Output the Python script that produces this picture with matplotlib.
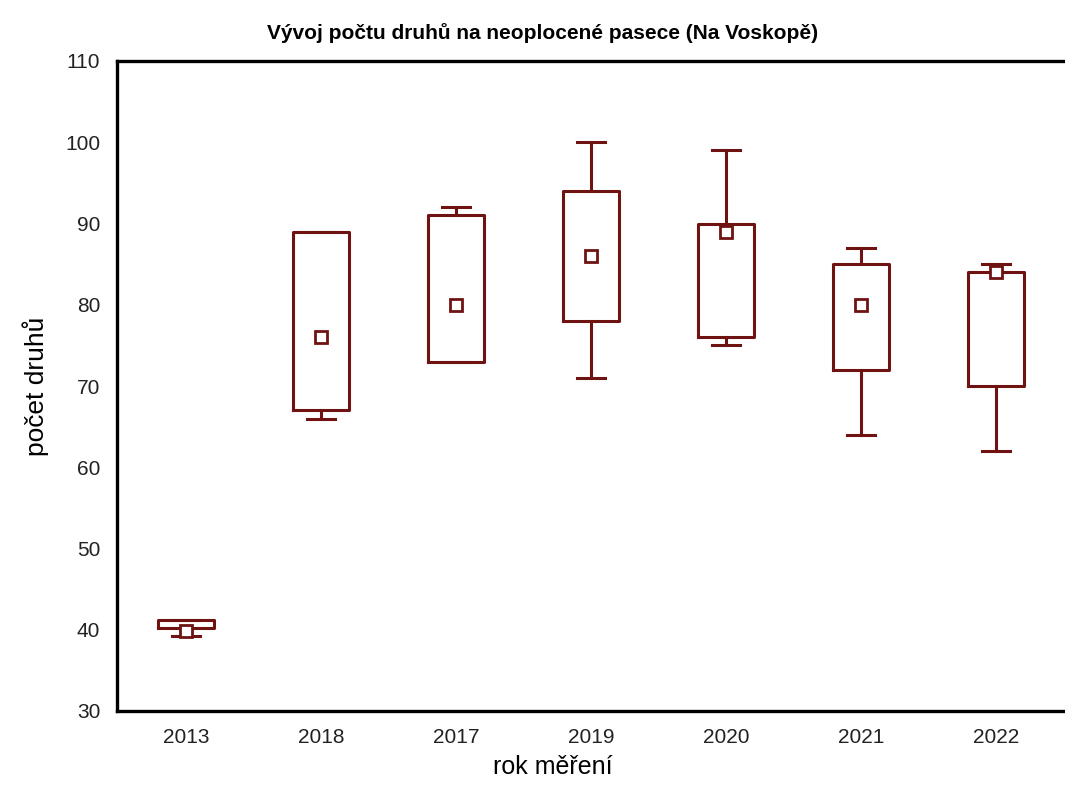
import matplotlib
matplotlib.use("Agg")
import matplotlib.pyplot as plt

plt.rcParams['font.family'] = ['Liberation Sans', 'DejaVu Sans']

years = ["2013", "2018", "2017", "2019", "2020", "2021", "2022"]
whisker_low = [39.2, 66, 73, 71, 75, 64, 62]
box_low = [40.2, 67, 73, 78, 76, 72, 70]
box_high = [41.2, 89, 91, 94, 90, 85, 84]
whisker_high = [41.2, 89, 92, 100, 99, 87, 85]
means = [39.8, 76, 80, 86, 89, 80, 84]

color = '#6e1212'

stats = []
for i, y in enumerate(years):
    stats.append(dict(label=y, whislo=whisker_low[i], q1=box_low[i], med=means[i],
                      q3=box_high[i], whishi=whisker_high[i], mean=means[i]))

fig = plt.figure(figsize=(10.65, 7.98), dpi=100)
ax = fig.add_axes([117/1065, 87/798, 1 - 117/1065, (711-61)/798])

lw = 2.2
ax.bxp(stats, positions=range(len(years)), widths=0.41, showmeans=True, meanline=False,
       showfliers=False,
       boxprops=dict(color=color, linewidth=lw),
       whiskerprops=dict(color=color, linewidth=lw),
       capprops=dict(color=color, linewidth=lw),
       medianprops=dict(linewidth=0),
       meanprops=dict(marker='s', markersize=8, markerfacecolor='white',
                      markeredgecolor=color, markeredgewidth=2.0))

ax.set_xlim(-0.51, 6.51)
ax.set_ylim(30, 110)
ax.set_yticks(range(30, 111, 10))
ax.set_xticks(range(len(years)))
ax.set_xticklabels(years)
ax.tick_params(length=0, labelsize=15, colors='#222222')
ax.tick_params(axis='x', pad=12)
ax.tick_params(axis='y', pad=12)
for s in ['left', 'top', 'bottom']:
    ax.spines[s].set_linewidth(2.4)
ax.spines['right'].set_visible(False)

ax.set_title("Vývoj počtu druhů na neoplocené pasece (Na Voskopě)", fontsize=15,
             fontweight='bold', pad=16, x=0.449)
ax.set_xlabel("rok měření", fontsize=18, labelpad=6, x=0.46)
ax.set_ylabel("počet druhů", fontsize=19, labelpad=12)

fig.savefig("out.png", dpi=100)
